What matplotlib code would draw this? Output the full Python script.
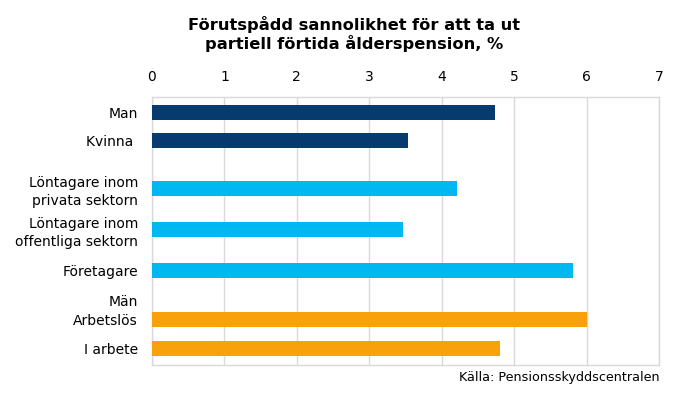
import numpy as np
import matplotlib
matplotlib.use("Agg")
import matplotlib.pyplot as plt

# data
labels = ["Man", "Kvinna ", "Löntagare inom\nprivata sektorn", "Löntagare inom\noffentliga sektorn",
          "Företagare", "Män", "Arbetslös", "I arbete"]
values = [4.73, 3.54, 4.21, 3.47, 5.81, np.nan, 6.00, 4.80]
groups = ["kön", "kön", "sektor", "sektor", "sektor", "status", "status", "status"]

# layout: row positions (uneven, as in the original)
ypos = [1.0, 2.0, 3.76, 5.25, 6.73, 7.82, 8.54, 9.59]
colors = {"kön": "#073A6F", "sektor": "#00B8F1", "status": "#F9A10A"}
grid_col = "#D9D9D9"

fig = plt.figure(figsize=(6.98, 3.94), dpi=100)
ax = fig.add_axes([152 / 698, 1 - 365.3 / 394, (659.3 - 152.3) / 698, (365.3 - 97.3) / 394])

vals = np.array(values, dtype=float)
ax.barh(ypos, np.nan_to_num(vals), height=0.545,
        color=[colors[g] for g in groups], zorder=3)

ax.set_xlim(0, 7)
ax.set_ylim(10.19, 0.447)
ax.set_xticks(range(0, 8))
ax.xaxis.tick_top()
ax.tick_params(axis="x", length=0, pad=9.5, labelsize=10, colors="black")
ax.set_yticks(ypos)
ax.set_yticklabels(labels, fontsize=10, linespacing=1.4)
ax.tick_params(axis="y", length=0, pad=10)
ax.grid(axis="x", color=grid_col, linewidth=1, zorder=0)
for s in ax.spines.values():
    s.set_color(grid_col)
    s.set_linewidth(1)

fig.text(354 / 698, 1 - 34 / 394, "Förutspådd sannolikhet för att ta ut\npartiell förtida ålderspension, %",
         ha="center", va="center", fontsize=11.7, fontweight="bold", linespacing=1.1)
fig.text(660 / 698, 1 - 378 / 394, "Källa: Pensionsskyddscentralen",
         ha="right", va="center", fontsize=9.2)

fig.savefig("out.png", dpi=100)
